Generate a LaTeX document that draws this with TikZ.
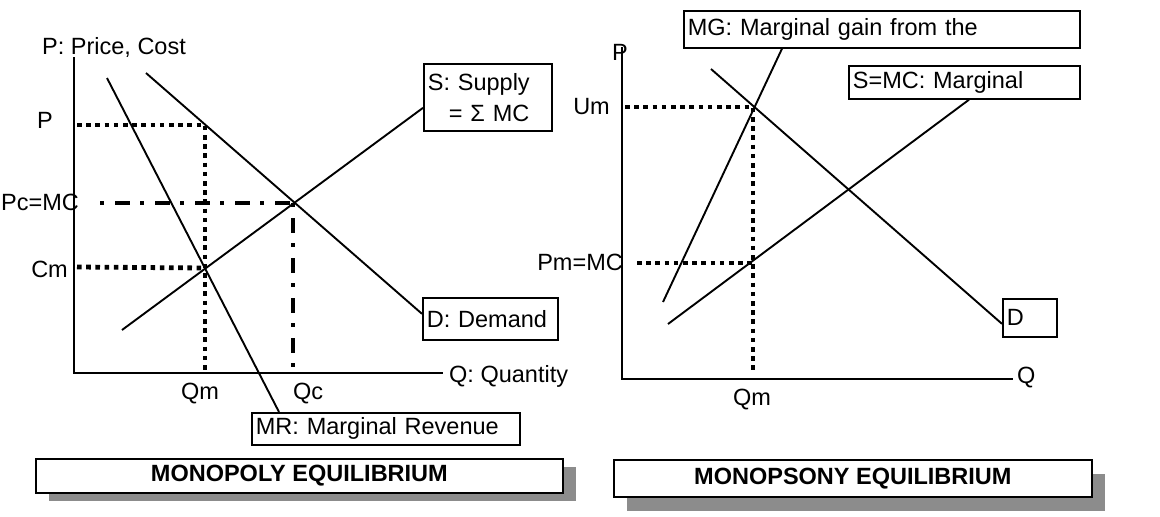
\documentclass[tikz,border=0pt]{standalone}
\usepackage{fontspec}
\setmainfont{Liberation Sans}
\usetikzlibrary{calc}
\begin{document}
\begin{tikzpicture}[x=1pt,y=-1pt,
  font=\fontsize{23.5}{28}\selectfont,
  curve/.style={line width=1.9pt},
  axis/.style={line width=2.1pt},
  dots/.style={line width=4.8pt, dash pattern=on 4.6pt off 4.6pt},
  dashdot/.style={line width=3.6pt, dash pattern=on 4pt off 11pt on 15pt off 10pt},
  lbox/.style={draw, line width=1.7pt, anchor=north west, align=left,
    inner xsep=4pt, inner ysep=0pt},
  titlebox/.style={draw, line width=1.7pt, fill=white, anchor=north west,
    inner sep=0pt, font=\fontsize{23.5}{28}\selectfont\bfseries},
  shadowbox/.style={fill=black!45, draw=none, anchor=north west, inner sep=0pt},
  tick/.style={inner sep=0pt}
]
\useasboundingbox (0,0) rectangle (1160,517);

% ---------------- Monopoly ----------------
% axes
\coordinate (lO) at (74,373);
\coordinate (lYtop) at (74,57);
\coordinate (lXend) at (443,373);
\draw[axis] (lYtop) -- (lO) -- (lXend);

% label boxes
\node[lbox, text width=120pt, minimum height=67pt] (sbox) at (423,63)
  {S: Supply\\[3pt]\hspace*{21pt}= Σ MC};
\node[lbox, text width=127pt, minimum height=42pt] (dbox) at (422,297) {D: Demand};
\node[lbox, text width=260pt, minimum height=32pt] (mrbox) at (251,412) {MR: Marginal Revenue};

% key points
\coordinate (lPm) at (205,125);   % monopoly price on demand
\coordinate (lC)  at (293,203);   % competitive equilibrium
\coordinate (lCm) at (205,268);   % MR = MC
\coordinate (lPax) at (77,125);
\coordinate (lCax) at (77,267);
\coordinate (lPcax) at (100,203);
\coordinate (lQm) at (205,373);
\coordinate (lQc) at (293,373);

% curves
\coordinate (lD0) at (146,73);
\coordinate (lMR0) at (107,78);
\coordinate (lS0) at (122,330);
\draw[curve] (lD0) -- ($(dbox.west)+(0,-5)$);
\draw[curve] (lMR0) -- ($(mrbox.north west)+(28,0)$);
\draw[curve] (lS0) -- ($(sbox.west)+(0,10.5)$);

% guide lines
\draw[dots] (lPax) -- (lPm) -- (lQm);
\draw[dots] (lCax) -- (lCm);
\draw[dashdot] (lPcax) -- (lC);
\draw[dashdot] (lC) -- (lQc);

% axis texts
\node[tick, anchor=base west] (lTy) at (42,54) {P: Price, Cost};
\node[tick, anchor=base west] (lTP) at (37,128) {P};
\node[tick, anchor=base east] (lTPc) at (79,210) {Pc=MC};
\node[tick, anchor=base east] (lTCm) at (68,277) {Cm};
\node[tick, anchor=base] (lTQm) at (200,399) {Qm};
\node[tick, anchor=base west] (lTQc) at (293,399) {Qc};
\node[tick, anchor=base west] (lTx) at (449,382) {Q: Quantity};

% title
\node[shadowbox, minimum width=527pt, minimum height=34pt] (lshadow) at (49,467) {};
\node[titlebox, minimum width=527pt, minimum height=34pt] (ltitle) at (35,458)
  {MONOPOLY EQUILIBRIUM};

% ---------------- Monopsony ----------------
\coordinate (rO) at (622,379);
\coordinate (rYtop) at (622,47);
\coordinate (rXend) at (1013,379);
\draw[axis] (rYtop) -- (rO) -- (rXend);

\node[lbox, text width=388pt, minimum height=37pt] (mgbox) at (683,10)
  {MG: Marginal gain from the};
\node[lbox, text width=223pt, minimum height=33pt] (smcbox) at (848,65)
  {S=MC: Marginal};
\node[lbox, text width=46pt, minimum height=38pt] (rdbox) at (1002,298) {D};

\coordinate (rU)  at (753,107);   % MG = D
\coordinate (rPm) at (753,263);   % price on supply
\coordinate (rUax) at (625,107);
\coordinate (rPax) at (637,263);
\coordinate (rQm) at (753,372);

\coordinate (rMG0) at (663,302);
\coordinate (rD0) at (711,69);
\coordinate (rS0) at (668,324);
\draw[curve] (rMG0) -- ($(mgbox.south west)+(99,0)$);
\draw[curve] (rD0) -- ($(rdbox.west)+(0,6)$);
\draw[curve] (rS0) -- ($(smcbox.south west)+(121,0)$);

\draw[dots] (rUax) -- (rU) -- (rQm);
\draw[dots] (rPax) -- (rPm);

\node[tick, anchor=base west] (rTP) at (612,60) {P};
\node[tick, anchor=base east] (rTU) at (610,114) {Um};
\node[tick, anchor=base east] (rTPm) at (623,270) {Pm=MC};
\node[tick, anchor=base] (rTQm) at (752,405) {Qm};
\node[tick, anchor=base west] (rTQ) at (1017,383) {Q};

\node[shadowbox, minimum width=478pt, minimum height=37pt] (rshadow) at (627,474) {};
\node[titlebox, minimum width=478pt, minimum height=37pt] (rtitle) at (613,459)
  {MONOPSONY EQUILIBRIUM};
\end{tikzpicture}
\end{document}
